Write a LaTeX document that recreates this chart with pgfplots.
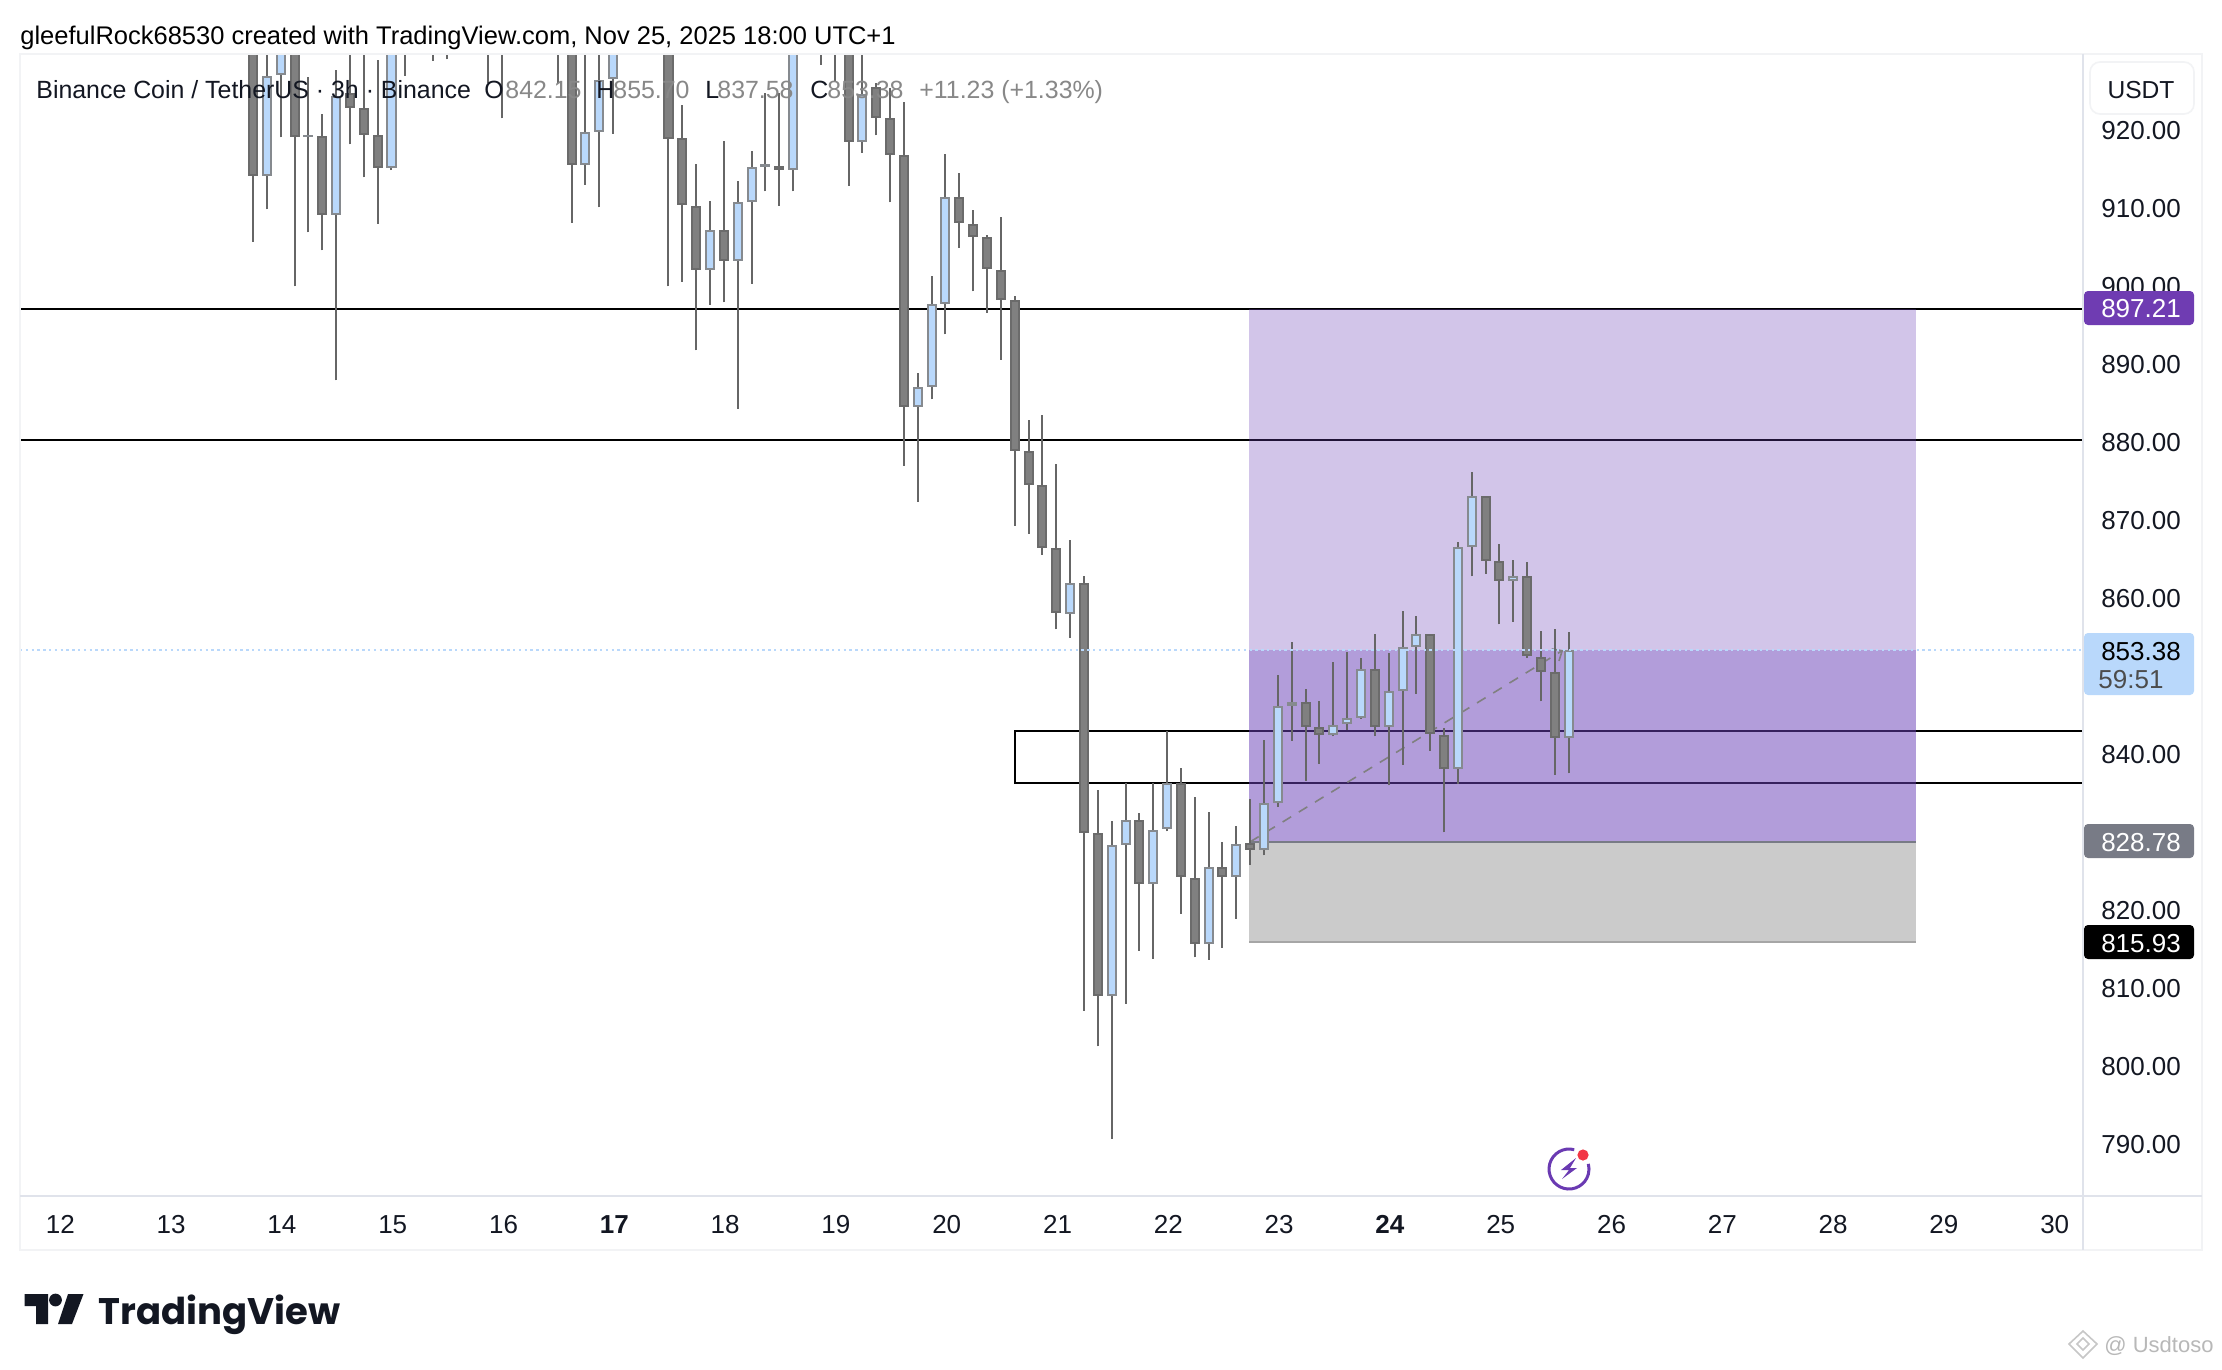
\documentclass[border=0pt]{standalone}
\usepackage{fontspec}
\setmainfont{Liberation Sans}
\newfontfamily\logofont{Poppins}
\usepackage{pgfplots}
\pgfplotsset{compat=1.18}
\usetikzlibrary{arrows.meta}
\definecolor{tvtext}{HTML}{131722}
\definecolor{darkbody}{HTML}{808080}
\definecolor{darkedge}{HTML}{6B6B6B}
\definecolor{upbody}{HTML}{B9D8FB}
\definecolor{upedge}{HTML}{868A8F}
\definecolor{wickc}{HTML}{666666}
\definecolor{zonep}{HTML}{6A42B8}
\definecolor{tagp}{HTML}{6F3CB2}
\definecolor{zoneg}{HTML}{CBCBCB}
\definecolor{tagg}{HTML}{787B86}
\definecolor{framec}{HTML}{F2F3F5}
\definecolor{sepc}{HTML}{E0E3EB}
\definecolor{legval}{HTML}{888888}
\definecolor{reddot}{HTML}{F23645}
\tikzset{
  dn/.style={draw=darkedge,fill=darkbody,line width=1pt,line join=miter},
  up/.style={draw=upedge,fill=upbody,line width=1pt,line join=miter},
  wick/.style={draw=wickc,line width=1pt}
}
% \candle{style}{n}{high}{body top}{body bottom}{low}
\newcommand\candle[6]{%
  \pgfmathsetmacro\xa{#2-0.289}\pgfmathsetmacro\xb{#2+0.289}%
  \pgfmathsetmacro\ya{#4-0.128}\pgfmathsetmacro\yb{#5+0.128}%
  \edef\tmpplot{%
    \noexpand\addplot[wick] coordinates {(#2,#6)(#2,#3)};
    \noexpand\addplot[#1] coordinates {(\xa,\ya)(\xb,\ya)(\xb,\yb)(\xa,\yb)} --cycle;
  }\tmpplot}
\begin{document}
\begin{tikzpicture}
\useasboundingbox (0,0) rectangle (1111pt,-685pt);
\fill[white] (0,0) rectangle (1111pt,-685pt);
\begin{axis}[
  at={(10pt,-27.4pt)},anchor=north west,
  scale only axis,width=1031.5pt,height=570.5pt,
  xmin=-16.823,xmax=132.13,ymin=783.36,ymax=929.77,
  axis line style={draw=none},
  major tick length=0pt,
  xtick={-13.91,-5.91,2.09,10.09,18.09,26.09,34.09,42.09,50.09,58.09,66.09,74.09,82.09,90.09,98.09,106.09,114.09,122.09,130.09},
  xticklabels={12,13,14,15,16,\textbf{17},18,19,20,21,22,23,\textbf{24},25,26,27,28,29,30},
  xticklabel style={anchor=base,yshift=-19pt,font=\fontsize{13}{15}\selectfont,text=tvtext},
  ytick={790,800,810,820,840,860,870,880,890,900,910,920},
  yticklabel pos=right,
  yticklabel style={anchor=west,inner sep=0pt,xshift=9pt,font=\fontsize{13}{15}\selectfont,text=tvtext,
    /pgf/number format/.cd,fixed,fixed zerofill,precision=2,assume math mode=true},
]
% levels
\addplot[black,line width=1pt] coordinates {(-16.823,897.21)(132.13,897.21)};
\addplot[black,line width=1pt] coordinates {(-16.823,880.37)(132.13,880.37)};
\addplot[black,line width=1pt] coordinates {(132.13,843.03)(55,843.03)(55,836.35)(132.13,836.35)};
% position zones
\addplot[fill=zonep,fill opacity=0.3,draw=none] coordinates {(71.93,828.78)(120.07,828.78)(120.07,897.21)(71.93,897.21)} --cycle;
\addplot[fill=zonep,fill opacity=0.3,draw=none] coordinates {(71.93,828.78)(120.07,828.78)(120.07,853.38)(71.93,853.38)} --cycle;
\addplot[fill=zoneg,draw=none] coordinates {(71.93,815.93)(120.07,815.93)(120.07,828.78)(71.93,828.78)} --cycle;
\addplot[tagg,line width=1pt] coordinates {(71.93,828.78)(120.07,828.78)};
\addplot[black!35,line width=0.6pt] coordinates {(71.93,815.93)(120.07,815.93)};
% trend
\addplot[darkbody,line width=0.8pt,dash pattern=on 5pt off 4.5pt,-{Straight Barb[length=4pt,width=7pt]}] coordinates {(72,828.78)(94.6,853.38)};
% candles
\candle{dn}{0}{935}{931}{914.21}{905.81}
\candle{up}{1}{932}{927.11}{914.21}{909.92}
\candle{up}{2}{935}{931}{927.20}{919.16}
\candle{dn}{3}{935}{931}{919.21}{900.04}
\candle{up}{4}{926.95}{919.51}{919.25}{906.97}
\candle{dn}{5}{922.16}{919.29}{909.20}{904.66}
\candle{up}{6}{927.81}{924.51}{909.20}{887.98}
\candle{dn}{7}{932}{924.93}{922.93}{918.26}
\candle{dn}{8}{932}{922.88}{919.47}{914.03}
\candle{dn}{9}{929.09}{919.42}{915.23}{908.12}
\candle{up}{10}{935}{931}{915.23}{914.98}
\candle{dn}{11}{936}{933}{931}{927.11}
\candle{dn}{13}{937}{934}{932}{929.00}
\candle{dn}{14}{937}{934}{932}{929.17}
\candle{dn}{17}{937}{934}{932}{926.18}
\candle{dn}{18}{937}{934}{932}{921.60}
\candle{dn}{22}{937}{934}{932}{926.18}
\candle{dn}{23}{936}{932}{915.57}{908.25}
\candle{up}{24}{935}{919.85}{915.57}{913.09}
\candle{up}{25}{933}{926.52}{919.85}{910.18}
\candle{up}{26}{936}{932}{926.65}{919.67}
\candle{dn}{30}{935}{932}{919.03}{900.04}
\candle{dn}{31}{923.35}{919.03}{910.48}{900.68}
\candle{dn}{32}{915.78}{910.43}{902.14}{891.83}
\candle{up}{33}{911.04}{907.35}{902.14}{897.69}
\candle{dn}{34}{918.74}{907.35}{903.30}{898.00}
\candle{up}{35}{913.60}{910.82}{903.30}{884.38}
\candle{up}{36}{917.45}{915.31}{910.87}{900.42}
\candle{up}{37}{924.93}{915.69}{915.44}{912.23}
\candle{dn}{38}{924.93}{915.44}{914.98}{910.43}
\candle{up}{39}{935}{931}{914.98}{912.23}
\candle{dn}{41}{937}{934}{932}{928.49}
\candle{dn}{42}{937}{934}{932}{926.43}
\candle{dn}{43}{936}{932}{918.57}{912.96}
\candle{up}{44}{935}{924.77}{918.57}{917.23}
\candle{dn}{45}{926.09}{925.70}{921.60}{919.42}
\candle{dn}{46}{925.50}{921.60}{916.90}{910.82}
\candle{dn}{47}{923.74}{916.85}{884.56}{877.07}
\candle{up}{48}{888.93}{887.08}{884.56}{872.45}
\candle{up}{49}{901.37}{897.73}{887.13}{885.54}
\candle{up}{50}{917.03}{911.46}{897.78}{893.88}
\candle{dn}{51}{914.59}{911.46}{908.17}{905.04}
\candle{dn}{52}{909.84}{908.12}{906.38}{899.40}
\candle{dn}{53}{906.63}{906.33}{902.27}{896.70}
\candle{dn}{54}{908.98}{902.22}{898.29}{890.67}
\candle{dn}{55}{898.81}{898.29}{878.92}{869.37}
\candle{dn}{56}{882.90}{878.92}{874.55}{868.34}
\candle{dn}{57}{883.58}{874.55}{866.47}{865.65}
\candle{dn}{58}{877.25}{866.47}{858.13}{856.03}
\candle{up}{59}{867.50}{861.98}{858.00}{855.00}
\candle{dn}{60}{862.88}{861.98}{829.90}{807.10}
\candle{dn}{61}{835.46}{829.90}{808.98}{802.52}
\candle{up}{62}{831.48}{828.36}{808.98}{790.71}
\candle{up}{63}{836.32}{831.52}{828.36}{808.03}
\candle{dn}{64}{832.46}{831.52}{823.36}{814.80}
\candle{up}{65}{836.32}{830.36}{823.36}{813.81}
\candle{up}{66}{843.03}{836.32}{830.41}{830.11}
\candle{dn}{67}{838.24}{836.32}{824.25}{819.58}
\candle{dn}{68}{834.52}{824.20}{815.66}{813.94}
\candle{up}{69}{832.59}{825.49}{815.66}{813.68}
\candle{dn}{70}{828.74}{825.49}{824.25}{815.22}
\candle{up}{71}{830.80}{828.56}{824.25}{818.94}
\candle{dn}{72}{834.30}{828.59}{827.72}{825.87}
\candle{up}{73}{841.83}{833.70}{827.72}{827.03}
\candle{up}{74}{850.21}{846.15}{833.75}{833.31}
\candle{up}{75}{854.45}{846.66}{846.15}{841.74}
\candle{dn}{76}{848.38}{846.66}{843.50}{836.61}
\candle{dn}{77}{846.88}{843.50}{842.47}{838.83}
\candle{up}{78}{851.88}{843.83}{842.47}{842.30}
\candle{up}{79}{853.16}{844.61}{843.89}{843.19}
\candle{up}{80}{852.39}{851.02}{844.66}{844.57}
\candle{dn}{81}{855.47}{851.02}{843.50}{842.30}
\candle{up}{82}{853.04}{848.12}{843.50}{836.01}
\candle{up}{83}{858.39}{853.72}{848.12}{838.70}
\candle{up}{84}{857.78}{855.51}{853.72}{847.81}
\candle{dn}{85}{855.51}{855.51}{842.60}{840.50}
\candle{dn}{86}{843.37}{842.55}{838.11}{829.98}
\candle{up}{87}{867.24}{866.55}{838.11}{836.19}
\candle{up}{88}{876.22}{873.22}{866.55}{862.83}
\candle{dn}{89}{873.22}{873.22}{864.80}{863.21}
\candle{dn}{90}{867.00}{864.80}{862.24}{856.67}
\candle{up}{91}{864.97}{862.83}{862.24}{857.01}
\candle{dn}{92}{864.67}{862.83}{852.61}{852.43}
\candle{dn}{93}{855.82}{852.56}{850.56}{846.79}
\candle{dn}{94}{856.08}{850.51}{842.09}{837.42}
\candle{up}{95}{855.70}{853.38}{842.15}{837.58}
% last price line
\addplot[upbody,line width=0.9pt,dash pattern=on 1.2pt off 1.7pt] coordinates {(-16.823,853.38)(132.13,853.38)};
\end{axis}
\begin{scope}[x=0.5pt,y=-0.5pt]
% frame
\draw[framec,line width=1pt] (20,54) rectangle (2202,1250);
\draw[sepc,line width=1pt] (2083,54) -- (2083,1250);
\draw[sepc,line width=1pt] (20,1195.5) -- (2202,1195.5);
% header
\node[anchor=base west,inner sep=0,text=black,font=\fontsize{12.75}{14}\selectfont] at (20,44.5) {gleefulRock68530 created with TradingView.com, Nov 25, 2025 18:00 UTC+1};
% legend
\tikzset{leg/.style={anchor=base west,inner sep=0,font=\fontsize{12.45}{14}\selectfont}}
\node[leg,text=tvtext] at (36,98.5) {Binance Coin / TetherUS · 3h · Binance};
\node[leg,text=tvtext] at (484,98.5) {O};
\node[leg,text=legval] at (505,98.5) {842.15};
\node[leg,text=tvtext] at (596,98.5) {H};
\node[leg,text=legval] at (613,98.5) {855.70};
\node[leg,text=tvtext] at (705,98.5) {L};
\node[leg,text=legval] at (717,98.5) {837.58};
\node[leg,text=tvtext] at (810,98.5) {C};
\node[leg,text=legval] at (827,98.5) {853.38};
\node[leg,text=legval] at (919,98.5) {+11.23 (+1.33\%)};
% USDT button
\draw[framec,fill=white,line width=0.8pt,rounded corners=5pt] (2090,62) rectangle (2194,114);
\node[anchor=base,inner sep=0,text=tvtext,font=\fontsize{12.3}{15}\selectfont] at (2141,98) {USDT};
% price tags
\fill[tagp,rounded corners=2pt] (2084,291) rectangle (2194,325);
\node[anchor=base,inner sep=0,text=white,font=\fontsize{13}{15}\selectfont] at (2141,317.5) {897.21};
\fill[upbody,rounded corners=2pt] (2084,633) rectangle (2194,695);
\node[anchor=base,inner sep=0,text=black,font=\fontsize{13}{15}\selectfont] at (2141,660) {853.38};
\node[anchor=base,inner sep=0,text=black!70,font=\fontsize{13}{15}\selectfont] at (2131,688) {59:51};
\fill[tagg,rounded corners=2pt] (2084,824) rectangle (2194,858);
\node[anchor=base,inner sep=0,text=white,font=\fontsize{13}{15}\selectfont] at (2141,851) {828.78};
\fill[black,rounded corners=2pt] (2084,925) rectangle (2194,959);
\node[anchor=base,inner sep=0,text=white,font=\fontsize{13}{15}\selectfont] at (2141,952) {815.93};
% flash icon
\definecolor{flash}{HTML}{6A3AB2}
\draw[flash,line width=1.5pt] (1574.2,1149.7) arc[start angle=75,end angle=375,radius=10pt];
\fill[flash] (1576,1158) -- (1561,1170) -- (1569,1170) -- (1562,1179) -- (1577,1168) -- (1570,1168) -- cycle;
\fill[reddot] (1583,1155) circle[radius=2.8pt];
% logo
\fill[tvtext] (24.5,1294) -- (48,1294) -- (48,1324) -- (36,1324) -- (36,1306) -- (24.5,1306) -- cycle;
\fill[tvtext] (55.5,1300) circle[radius=3.2pt];
\fill[tvtext] (68,1294) -- (83.5,1294) -- (72,1324) -- (58,1324) -- cycle;
\node[anchor=base west,inner sep=0,text=tvtext,font=\logofont\bfseries\fontsize{18.5}{22}\selectfont] at (98,1324) {TradingView};
% watermark
\draw[black!22,line width=0.8pt] (2083,1331) -- (2097,1344) -- (2083,1358) -- (2069,1344) -- cycle;
\draw[black!22,line width=0.8pt] (2083,1338) -- (2089,1344) -- (2083,1350) -- (2077,1344) -- cycle;
\node[anchor=base west,inner sep=0,text=black!28,font=\fontsize{11}{13}\selectfont] at (2104,1352) {@ Usdtoso};
\end{scope}
\end{tikzpicture}
\end{document}
